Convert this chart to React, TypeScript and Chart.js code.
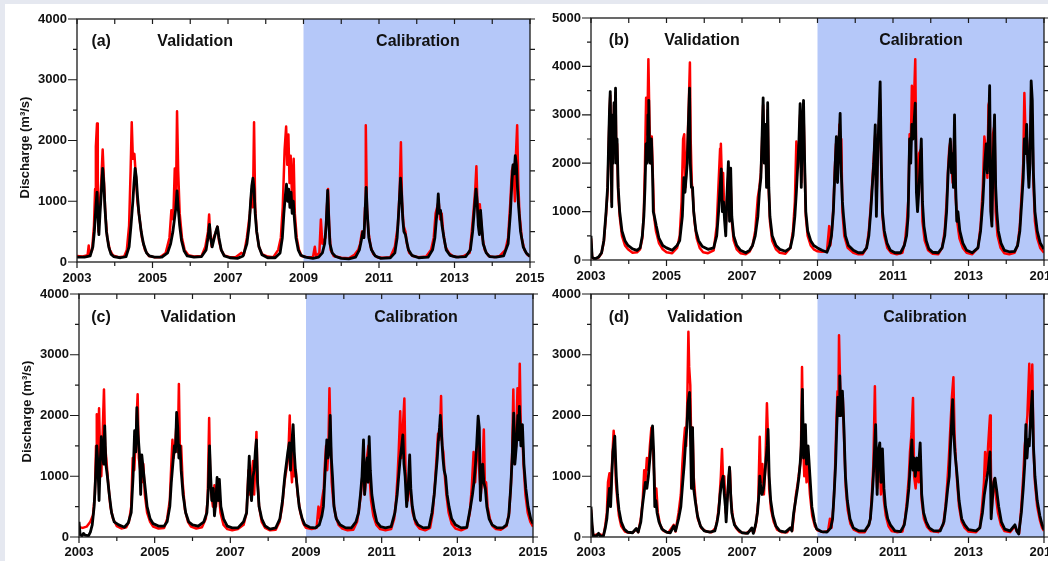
import React, { useEffect, useRef } from 'react';
import { Chart, registerables } from 'chart.js';

Chart.register(...registerables);

type Pt = [number, number];

// ---------- axes / categories ----------
const yearTicks = [2003, 2004, 2005, 2006, 2007, 2008, 2009, 2010, 2011, 2012, 2013, 2014, 2015];
const labeledYears = [2003, 2005, 2007, 2009, 2011, 2013, 2015];
const calibrationStart = 2009;
const calibrationEnd = 2015;
const periodNames = ['Validation', 'Calibration'];
const panelLetters = ['(a)', '(b)', '(c)', '(d)'];
const yTitle = 'Discharge (m³/s)';
const yMaxes = [4000, 5000, 4000, 4000];

// ---------- panel (a) ----------
const aRed: Pt[] = [
  [2003.0, 100], [2003.15, 90], [2003.28, 110], [2003.31, 270], [2003.34, 120], [2003.4, 200], [2003.45, 600], [2003.48, 1200], [2003.5, 1900], [2003.53, 2280], [2003.55, 1000], [2003.57, 500], [2003.6, 900], [2003.64, 1300], [2003.68, 1850], [2003.71, 1400], [2003.75, 800], [2003.8, 400], [2003.87, 200], [2003.95, 110],
  [2004.1, 80], [2004.25, 90], [2004.32, 200], [2004.38, 600], [2004.42, 1500], [2004.45, 2300], [2004.48, 1700], [2004.52, 1780], [2004.56, 1400], [2004.6, 1000], [2004.66, 700], [2004.72, 400], [2004.8, 200], [2004.9, 100],
  [2005.05, 80], [2005.2, 80], [2005.35, 150], [2005.45, 400], [2005.5, 850], [2005.55, 700], [2005.59, 1540], [2005.62, 900], [2005.65, 2480], [2005.68, 1500], [2005.72, 800], [2005.78, 400], [2005.85, 200], [2005.95, 110],
  [2006.1, 90], [2006.3, 100], [2006.4, 250], [2006.47, 500], [2006.5, 780], [2006.53, 450], [2006.57, 250], [2006.62, 400], [2006.67, 480], [2006.72, 580], [2006.76, 350], [2006.82, 200], [2006.9, 110],
  [2007.05, 80], [2007.2, 80], [2007.35, 150], [2007.42, 120], [2007.5, 400], [2007.58, 800], [2007.63, 1200], [2007.66, 900], [2007.69, 2300], [2007.72, 900], [2007.76, 500], [2007.82, 250], [2007.9, 130],
  [2008.05, 90], [2008.2, 80], [2008.33, 200], [2008.4, 400], [2008.45, 900], [2008.5, 1850], [2008.54, 2230], [2008.57, 1600], [2008.6, 2100], [2008.63, 1300], [2008.66, 1750], [2008.7, 1000], [2008.74, 1700], [2008.77, 800], [2008.82, 400], [2008.88, 200], [2008.95, 100],
  [2009.1, 80], [2009.25, 80], [2009.3, 250], [2009.33, 100], [2009.42, 150], [2009.46, 700], [2009.5, 300], [2009.58, 400], [2009.62, 900], [2009.65, 1200], [2009.68, 600], [2009.72, 200], [2009.8, 100],
  [2010.0, 70], [2010.2, 60], [2010.35, 120], [2010.45, 200], [2010.5, 300], [2010.55, 500], [2010.6, 400], [2010.63, 900], [2010.65, 2250], [2010.68, 900], [2010.72, 500], [2010.78, 250], [2010.85, 130], [2010.95, 80],
  [2011.1, 70], [2011.3, 80], [2011.42, 250], [2011.5, 600], [2011.55, 1200], [2011.58, 1970], [2011.61, 1000], [2011.65, 600], [2011.7, 500], [2011.74, 300], [2011.8, 150], [2011.9, 100],
  [2012.05, 80], [2012.25, 90], [2012.38, 200], [2012.45, 400], [2012.5, 800], [2012.54, 900], [2012.58, 1000], [2012.62, 700], [2012.66, 800], [2012.7, 500], [2012.76, 250], [2012.85, 150], [2012.95, 100],
  [2013.1, 80], [2013.25, 100], [2013.4, 150], [2013.45, 450], [2013.5, 800], [2013.55, 1200], [2013.58, 1575], [2013.61, 900], [2013.64, 600], [2013.67, 950], [2013.7, 700], [2013.74, 400], [2013.8, 200], [2013.9, 100],
  [2014.05, 80], [2014.2, 100], [2014.35, 200], [2014.42, 400], [2014.48, 1000], [2014.52, 1500], [2014.56, 1600], [2014.6, 1000], [2014.63, 1800], [2014.66, 2250], [2014.69, 1300], [2014.72, 800], [2014.78, 400], [2014.85, 200], [2014.93, 120], [2015.0, 90],
];
const aBlack: Pt[] = [
  [2003.0, 80], [2003.2, 80], [2003.35, 100], [2003.42, 250], [2003.46, 500], [2003.5, 900], [2003.53, 1150], [2003.56, 700], [2003.58, 450], [2003.61, 800], [2003.64, 1100], [2003.68, 1540], [2003.71, 1300], [2003.74, 900], [2003.78, 500], [2003.84, 250], [2003.9, 130], [2003.97, 90],
  [2004.15, 70], [2004.3, 90], [2004.38, 250], [2004.43, 600], [2004.48, 1000], [2004.51, 1300], [2004.54, 1540], [2004.57, 1400], [2004.6, 1100], [2004.64, 800], [2004.7, 500], [2004.76, 300], [2004.84, 150], [2004.92, 100],
  [2005.05, 80], [2005.25, 80], [2005.4, 150], [2005.48, 300], [2005.54, 500], [2005.58, 700], [2005.62, 900], [2005.65, 1170], [2005.68, 900], [2005.72, 600], [2005.77, 350], [2005.84, 180], [2005.92, 100],
  [2006.1, 80], [2006.3, 90], [2006.42, 200], [2006.47, 400], [2006.51, 620], [2006.54, 400], [2006.58, 250], [2006.63, 380], [2006.68, 500], [2006.72, 580], [2006.76, 400], [2006.82, 200], [2006.9, 100],
  [2007.05, 70], [2007.25, 60], [2007.4, 100], [2007.5, 300], [2007.56, 600], [2007.6, 1000], [2007.63, 1250], [2007.66, 1380], [2007.69, 1200], [2007.72, 800], [2007.76, 500], [2007.82, 250], [2007.9, 120],
  [2008.05, 70], [2008.25, 70], [2008.38, 150], [2008.44, 400], [2008.48, 800], [2008.52, 1100], [2008.55, 1280], [2008.58, 1000], [2008.61, 1200], [2008.64, 900], [2008.67, 1150], [2008.7, 800], [2008.73, 1000], [2008.76, 700], [2008.8, 400], [2008.86, 200], [2008.93, 110],
  [2009.05, 80], [2009.25, 60], [2009.4, 80], [2009.5, 150], [2009.56, 300], [2009.6, 600], [2009.64, 1180], [2009.67, 700], [2009.7, 300], [2009.76, 150], [2009.85, 90],
  [2010.0, 60], [2010.2, 50], [2010.38, 80], [2010.48, 200], [2010.53, 350], [2010.57, 500], [2010.6, 400], [2010.63, 800], [2010.66, 1230], [2010.69, 800], [2010.73, 400], [2010.8, 200], [2010.9, 100],
  [2011.05, 60], [2011.3, 70], [2011.42, 150], [2011.48, 400], [2011.53, 900], [2011.57, 1380], [2011.6, 1100], [2011.63, 700], [2011.66, 500], [2011.7, 450], [2011.73, 350], [2011.78, 200], [2011.87, 110],
  [2012.05, 70], [2012.3, 80], [2012.42, 200], [2012.48, 400], [2012.52, 700], [2012.55, 900], [2012.57, 1120], [2012.6, 800], [2012.63, 850], [2012.67, 600], [2012.72, 400], [2012.78, 200], [2012.88, 110],
  [2013.05, 80], [2013.3, 90], [2013.42, 200], [2013.48, 500], [2013.53, 900], [2013.57, 1200], [2013.6, 1000], [2013.63, 600], [2013.66, 450], [2013.69, 850], [2013.72, 600], [2013.76, 300], [2013.84, 150], [2013.93, 90],
  [2014.1, 80], [2014.3, 100], [2014.42, 300], [2014.48, 800], [2014.52, 1300], [2014.55, 1600], [2014.58, 1450], [2014.61, 1750], [2014.64, 1600], [2014.67, 1200], [2014.7, 900], [2014.75, 500], [2014.82, 250], [2014.9, 150], [2015.0, 90],
];

// ---------- panel (b) ----------
const bRed: Pt[] = [
  [2003.0, 450], [2003.03, 50], [2003.1, 20], [2003.2, 50], [2003.28, 140], [2003.34, 380], [2003.4, 950], [2003.44, 1450], [2003.47, 2400], [2003.49, 3000], [2003.51, 3400], [2003.53, 2100], [2003.55, 1200], [2003.57, 2900], [2003.59, 2100], [2003.61, 3200], [2003.63, 2300], [2003.65, 3450], [2003.67, 2100], [2003.69, 2400], [2003.72, 1400], [2003.76, 900], [2003.82, 500], [2003.9, 300], [2003.98, 220],
  [2004.1, 150], [2004.22, 160], [2004.3, 220], [2004.36, 450], [2004.4, 1000], [2004.43, 2000], [2004.46, 3350], [2004.49, 2600], [2004.52, 4150], [2004.55, 2800], [2004.58, 2000], [2004.61, 2550], [2004.64, 1700], [2004.67, 900], [2004.72, 600], [2004.8, 350], [2004.9, 220],
  [2005.0, 160], [2005.15, 140], [2005.28, 250], [2005.35, 500], [2005.4, 1200], [2005.44, 2500], [2005.47, 2600], [2005.5, 1500], [2005.53, 1900], [2005.56, 2500], [2005.59, 3200], [2005.62, 4080], [2005.64, 2500], [2005.67, 1600], [2005.7, 1300], [2005.74, 800], [2005.8, 450], [2005.88, 250], [2005.97, 160],
  [2006.1, 140], [2006.25, 200], [2006.33, 700], [2006.38, 1600], [2006.42, 2300], [2006.44, 2400], [2006.47, 1600], [2006.5, 1800], [2006.53, 1000], [2006.57, 700], [2006.6, 1200], [2006.64, 1800], [2006.67, 900], [2006.7, 1600], [2006.73, 800], [2006.78, 400], [2006.86, 220], [2006.96, 140],
  [2007.1, 120], [2007.2, 170], [2007.28, 300], [2007.35, 600], [2007.42, 1300], [2007.46, 1500], [2007.5, 1800], [2007.53, 2400], [2007.56, 3200], [2007.59, 2100], [2007.62, 2600], [2007.65, 1600], [2007.68, 3100], [2007.71, 1400], [2007.74, 800], [2007.8, 400], [2007.9, 220],
  [2008.0, 150], [2008.15, 130], [2008.28, 250], [2008.35, 600], [2008.4, 1200], [2008.44, 2450], [2008.48, 1900], [2008.51, 2300], [2008.54, 3000], [2008.57, 1600], [2008.6, 2600], [2008.63, 3100], [2008.66, 1900], [2008.69, 900], [2008.74, 500], [2008.82, 300], [2008.9, 220],
  [2009.0, 180], [2009.12, 170], [2009.25, 180], [2009.31, 700], [2009.34, 300], [2009.38, 600], [2009.42, 1100], [2009.46, 1900], [2009.49, 2400], [2009.52, 1700], [2009.55, 2100], [2009.58, 2800], [2009.61, 2000], [2009.63, 2500], [2009.66, 1000], [2009.71, 500], [2009.8, 250], [2009.95, 150],
  [2010.08, 120], [2010.2, 120], [2010.3, 250], [2010.36, 600], [2010.41, 1100], [2010.45, 1600], [2010.49, 2100], [2010.53, 2600], [2010.56, 1100], [2010.59, 2100], [2010.62, 2700], [2010.66, 3300], [2010.69, 1800], [2010.72, 900], [2010.77, 500], [2010.85, 250], [2010.95, 150],
  [2011.1, 120], [2011.25, 150], [2011.32, 400], [2011.37, 800], [2011.41, 1300], [2011.44, 2600], [2011.47, 2300], [2011.5, 3600], [2011.53, 2800], [2011.56, 3400], [2011.59, 4150], [2011.62, 1800], [2011.65, 1400], [2011.69, 2200], [2011.75, 2300], [2011.78, 800], [2011.84, 400], [2011.93, 200],
  [2012.05, 130], [2012.2, 120], [2012.3, 250], [2012.37, 600], [2012.42, 1200], [2012.46, 1900], [2012.49, 2300], [2012.52, 2450], [2012.55, 2000], [2012.58, 1600], [2012.63, 2700], [2012.66, 1300], [2012.7, 800], [2012.76, 450], [2012.85, 250], [2012.95, 150],
  [2013.1, 120], [2013.25, 250], [2013.32, 700], [2013.38, 1500], [2013.42, 2550], [2013.47, 2200], [2013.5, 1700], [2013.53, 3200], [2013.56, 3300], [2013.59, 1100], [2013.62, 800], [2013.65, 2600], [2013.69, 2800], [2013.72, 1000], [2013.77, 500], [2013.85, 250], [2013.95, 140],
  [2014.08, 120], [2014.22, 150], [2014.3, 300], [2014.36, 700], [2014.41, 1400], [2014.45, 2000], [2014.48, 3450], [2014.51, 2600], [2014.54, 2600], [2014.57, 2100], [2014.6, 1800], [2014.63, 2400], [2014.66, 3200], [2014.69, 2900], [2014.72, 1600], [2014.76, 800], [2014.82, 450], [2014.9, 250], [2015.0, 150],
];
const bBlack: Pt[] = [
  [2003.0, 500], [2003.03, 60], [2003.1, 20], [2003.2, 60], [2003.28, 150], [2003.34, 400], [2003.4, 1000], [2003.44, 1500], [2003.47, 2500], [2003.49, 3100], [2003.51, 3480], [2003.53, 2200], [2003.55, 1100], [2003.57, 3000], [2003.59, 2000], [2003.61, 3250], [2003.63, 2400], [2003.65, 3550], [2003.67, 2000], [2003.69, 2500], [2003.72, 1500], [2003.76, 1000], [2003.82, 600], [2003.9, 400], [2003.98, 300],
  [2004.1, 230], [2004.22, 200], [2004.3, 250], [2004.36, 500], [2004.4, 900], [2004.43, 1500], [2004.46, 2400], [2004.49, 2000], [2004.51, 3000], [2004.53, 3300], [2004.55, 2200], [2004.57, 2000], [2004.6, 2500], [2004.63, 1800], [2004.65, 1000], [2004.68, 900], [2004.73, 700], [2004.8, 450], [2004.9, 300],
  [2005.0, 250], [2005.15, 200], [2005.28, 300], [2005.35, 400], [2005.42, 900], [2005.46, 1700], [2005.49, 1400], [2005.52, 1700], [2005.55, 2000], [2005.58, 2800], [2005.61, 3550], [2005.63, 2000], [2005.66, 1500], [2005.69, 1500], [2005.72, 1000], [2005.78, 600], [2005.85, 400], [2005.95, 280],
  [2006.1, 220], [2006.25, 250], [2006.33, 500], [2006.38, 1000], [2006.42, 1500], [2006.45, 1880], [2006.48, 1000], [2006.51, 1200], [2006.54, 800], [2006.57, 500], [2006.6, 1300], [2006.64, 2030], [2006.67, 800], [2006.7, 1900], [2006.73, 900], [2006.78, 500], [2006.86, 300], [2006.96, 200],
  [2007.1, 150], [2007.2, 200], [2007.28, 300], [2007.35, 500], [2007.42, 900], [2007.46, 1400], [2007.5, 1700], [2007.53, 2500], [2007.56, 3350], [2007.59, 2000], [2007.62, 2800], [2007.65, 1500], [2007.68, 3250], [2007.71, 1500], [2007.74, 900], [2007.8, 500], [2007.9, 300],
  [2008.0, 220], [2008.15, 180], [2008.28, 250], [2008.35, 500], [2008.4, 900], [2008.44, 1400], [2008.48, 2000], [2008.51, 2500], [2008.54, 3230], [2008.57, 1500], [2008.6, 2800], [2008.63, 3300], [2008.66, 2000], [2008.69, 1000], [2008.74, 600], [2008.82, 400], [2008.9, 300],
  [2009.0, 250], [2009.12, 200], [2009.25, 160], [2009.32, 300], [2009.37, 500], [2009.42, 1000], [2009.46, 1800], [2009.5, 2550], [2009.53, 1600], [2009.56, 2200], [2009.6, 3030], [2009.63, 1800], [2009.66, 1200], [2009.69, 900], [2009.74, 500], [2009.82, 300], [2009.95, 200],
  [2010.08, 150], [2010.2, 150], [2010.3, 250], [2010.36, 500], [2010.41, 1000], [2010.45, 1500], [2010.49, 2000], [2010.53, 2790], [2010.56, 900], [2010.59, 2000], [2010.62, 2800], [2010.66, 3680], [2010.69, 2000], [2010.72, 1000], [2010.77, 600], [2010.84, 350], [2010.93, 200],
  [2011.05, 150], [2011.2, 150], [2011.3, 300], [2011.36, 500], [2011.4, 900], [2011.44, 2500], [2011.47, 2000], [2011.5, 2800], [2011.53, 2500], [2011.59, 3240], [2011.62, 1400], [2011.65, 1000], [2011.69, 1500], [2011.75, 2500], [2011.78, 1200], [2011.82, 700], [2011.88, 400], [2011.95, 230],
  [2012.05, 160], [2012.2, 150], [2012.3, 250], [2012.37, 500], [2012.42, 1000], [2012.46, 1800], [2012.52, 2500], [2012.55, 1800], [2012.58, 2200], [2012.6, 1500], [2012.63, 3000], [2012.66, 1500], [2012.69, 800], [2012.72, 1000], [2012.77, 600], [2012.85, 350], [2012.95, 200],
  [2013.1, 150], [2013.25, 250], [2013.32, 600], [2013.38, 1200], [2013.43, 2000], [2013.47, 2400], [2013.5, 1800], [2013.53, 2600], [2013.56, 3600], [2013.59, 1000], [2013.62, 700], [2013.65, 2000], [2013.69, 3000], [2013.72, 1500], [2013.75, 1000], [2013.79, 600], [2013.86, 350], [2013.95, 200],
  [2014.08, 170], [2014.22, 180], [2014.3, 300], [2014.36, 600], [2014.41, 1200], [2014.45, 1700], [2014.48, 2500], [2014.51, 2200], [2014.54, 2800], [2014.57, 2000], [2014.6, 1500], [2014.63, 2000], [2014.66, 3700], [2014.69, 3300], [2014.72, 1800], [2014.76, 1000], [2014.82, 600], [2014.9, 350], [2015.0, 220],
];

// ---------- panel (c) ----------
const cRed: Pt[] = [
  [2003.0, 160], [2003.1, 150], [2003.2, 170], [2003.3, 250], [2003.37, 360], [2003.42, 700], [2003.45, 1500], [2003.47, 2020], [2003.5, 1200], [2003.53, 2120], [2003.56, 1300], [2003.59, 1000], [2003.62, 1600], [2003.66, 2430], [2003.69, 1500], [2003.72, 1300], [2003.77, 900], [2003.83, 500], [2003.9, 300],
  [2004.0, 180], [2004.12, 140], [2004.25, 160], [2004.32, 250], [2004.38, 500], [2004.42, 1300], [2004.46, 1100], [2004.5, 1600], [2004.55, 2350], [2004.58, 1300], [2004.62, 1100], [2004.66, 900], [2004.7, 1200], [2004.74, 700], [2004.8, 400], [2004.88, 250], [2004.96, 170],
  [2005.1, 140], [2005.25, 150], [2005.33, 300], [2005.4, 600], [2005.44, 1200], [2005.47, 1600], [2005.5, 1300], [2005.54, 1500], [2005.58, 1900], [2005.61, 1400], [2005.64, 2520], [2005.67, 1300], [2005.7, 1500], [2005.74, 900], [2005.8, 450], [2005.88, 250], [2005.96, 170],
  [2006.1, 140], [2006.25, 160], [2006.35, 300], [2006.4, 600], [2006.44, 1960], [2006.47, 900], [2006.5, 700], [2006.54, 500], [2006.58, 850], [2006.62, 500], [2006.66, 900], [2006.7, 700], [2006.74, 400], [2006.82, 200], [2006.92, 130],
  [2007.05, 110], [2007.2, 130], [2007.35, 200], [2007.43, 400], [2007.48, 1100], [2007.51, 700], [2007.55, 900], [2007.6, 1250], [2007.63, 700], [2007.66, 1200], [2007.69, 1730], [2007.72, 900], [2007.76, 500], [2007.83, 250], [2007.92, 150],
  [2008.05, 110], [2008.2, 120], [2008.3, 250], [2008.37, 500], [2008.43, 900], [2008.48, 1100], [2008.53, 1300], [2008.57, 2000], [2008.6, 1200], [2008.63, 900], [2008.66, 1500], [2008.69, 1000], [2008.73, 1100], [2008.78, 700], [2008.85, 400], [2008.93, 220],
  [2009.0, 150], [2009.15, 130], [2009.28, 150], [2009.33, 500], [2009.37, 300], [2009.42, 600], [2009.47, 800], [2009.5, 1200], [2009.53, 1500], [2009.56, 1100], [2009.59, 1400], [2009.62, 2450], [2009.65, 1600], [2009.68, 900], [2009.72, 600], [2009.78, 350], [2009.86, 200], [2009.96, 140],
  [2010.1, 110], [2010.25, 120], [2010.35, 250], [2010.4, 450], [2010.45, 700], [2010.49, 1000], [2010.52, 1400], [2010.55, 700], [2010.58, 900], [2010.61, 1300], [2010.65, 1500], [2010.68, 1000], [2010.72, 600], [2010.78, 350], [2010.86, 200], [2010.96, 130],
  [2011.1, 110], [2011.25, 130], [2011.33, 300], [2011.38, 600], [2011.42, 1000], [2011.45, 1400], [2011.49, 2070], [2011.52, 1300], [2011.56, 1800], [2011.6, 2280], [2011.63, 1100], [2011.66, 800], [2011.69, 600], [2011.73, 1000], [2011.77, 700], [2011.82, 400], [2011.9, 220],
  [2012.0, 140], [2012.15, 110], [2012.28, 150], [2012.35, 400], [2012.41, 900], [2012.45, 1300], [2012.49, 1700], [2012.52, 1600], [2012.55, 1900], [2012.57, 2320], [2012.6, 1500], [2012.63, 1400], [2012.67, 1000], [2012.71, 700], [2012.77, 400], [2012.85, 220], [2012.95, 140],
  [2013.1, 110], [2013.25, 150], [2013.33, 400], [2013.38, 800], [2013.43, 1400], [2013.47, 900], [2013.51, 1300], [2013.55, 1700], [2013.58, 1100], [2013.62, 700], [2013.66, 1000], [2013.7, 1770], [2013.73, 800], [2013.76, 900], [2013.8, 500], [2013.86, 300], [2013.93, 180],
  [2014.02, 130], [2014.15, 120], [2014.3, 180], [2014.37, 400], [2014.42, 900], [2014.45, 1400], [2014.48, 2430], [2014.51, 1200], [2014.55, 1500], [2014.59, 2450], [2014.62, 1600], [2014.65, 2850], [2014.68, 1700], [2014.71, 1800], [2014.75, 1200], [2014.8, 700], [2014.86, 400], [2014.93, 250], [2015.0, 170],
];
const cBlack: Pt[] = [
  [2003.0, 250], [2003.03, 40], [2003.08, 20], [2003.12, 60], [2003.16, 30], [2003.25, 20], [2003.3, 80], [2003.35, 200], [2003.4, 500], [2003.44, 1000], [2003.47, 1500], [2003.5, 1200], [2003.53, 600], [2003.56, 1200], [2003.59, 1650], [2003.62, 1400], [2003.65, 1200], [2003.68, 1830], [2003.71, 1200], [2003.75, 1000], [2003.8, 700], [2003.86, 400], [2003.93, 250],
  [2004.05, 200], [2004.2, 160], [2004.3, 230], [2004.38, 400], [2004.43, 1000], [2004.47, 1750], [2004.5, 1400], [2004.53, 2130], [2004.56, 1700], [2004.6, 1350], [2004.63, 700], [2004.66, 1350], [2004.7, 1100], [2004.75, 800], [2004.8, 500], [2004.88, 300], [2004.96, 220],
  [2005.1, 180], [2005.25, 180], [2005.33, 250], [2005.4, 500], [2005.44, 900], [2005.48, 1200], [2005.52, 1500], [2005.55, 1400], [2005.58, 2050], [2005.61, 1800], [2005.64, 1300], [2005.67, 1500], [2005.7, 1100], [2005.75, 700], [2005.82, 400], [2005.9, 250],
  [2006.0, 200], [2006.15, 180], [2006.3, 250], [2006.38, 400], [2006.42, 800], [2006.45, 1500], [2006.48, 1000], [2006.51, 600], [2006.55, 800], [2006.58, 350], [2006.62, 600], [2006.65, 980], [2006.68, 600], [2006.71, 950], [2006.75, 500], [2006.82, 300], [2006.92, 180],
  [2007.05, 150], [2007.2, 150], [2007.35, 250], [2007.43, 400], [2007.47, 900], [2007.5, 1330], [2007.53, 800], [2007.56, 600], [2007.6, 1000], [2007.63, 1100], [2007.66, 1400], [2007.69, 1600], [2007.72, 900], [2007.76, 500], [2007.83, 300], [2007.92, 180],
  [2008.05, 130], [2008.2, 150], [2008.31, 300], [2008.38, 600], [2008.44, 1000], [2008.48, 1200], [2008.52, 1400], [2008.56, 1550], [2008.59, 1100], [2008.62, 1500], [2008.66, 1850], [2008.69, 1400], [2008.72, 1100], [2008.77, 800], [2008.82, 500], [2008.9, 300], [2008.97, 200],
  [2009.1, 160], [2009.25, 150], [2009.35, 200], [2009.42, 350], [2009.46, 500], [2009.5, 1000], [2009.55, 1600], [2009.58, 1300], [2009.61, 1400], [2009.64, 2000], [2009.67, 1300], [2009.7, 1000], [2009.74, 500], [2009.8, 300], [2009.9, 200],
  [2010.05, 150], [2010.2, 150], [2010.32, 250], [2010.39, 400], [2010.44, 700], [2010.48, 1000], [2010.52, 1600], [2010.55, 700], [2010.58, 1100], [2010.62, 1300], [2010.64, 900], [2010.67, 1650], [2010.7, 1100], [2010.74, 700], [2010.8, 450], [2010.87, 250], [2010.97, 170],
  [2011.1, 150], [2011.25, 170], [2011.35, 400], [2011.41, 700], [2011.45, 1000], [2011.49, 1300], [2011.53, 1500], [2011.56, 1680], [2011.59, 1200], [2011.62, 1000], [2011.66, 500], [2011.7, 800], [2011.74, 1350], [2011.77, 800], [2011.81, 500], [2011.87, 300], [2011.96, 200],
  [2012.1, 150], [2012.25, 160], [2012.33, 400], [2012.39, 700], [2012.43, 1000], [2012.47, 1300], [2012.5, 1600], [2012.53, 1800], [2012.55, 2000], [2012.59, 1600], [2012.62, 1300], [2012.65, 1100], [2012.69, 1000], [2012.73, 700], [2012.78, 500], [2012.85, 300], [2012.95, 200],
  [2013.1, 150], [2013.25, 160], [2013.35, 500], [2013.4, 700], [2013.44, 900], [2013.48, 1200], [2013.51, 1500], [2013.55, 1990], [2013.58, 1800], [2013.61, 600], [2013.64, 1000], [2013.67, 1200], [2013.7, 900], [2013.74, 800], [2013.78, 500], [2013.84, 300], [2013.92, 200],
  [2014.05, 150], [2014.2, 150], [2014.3, 200], [2014.36, 350], [2014.41, 800], [2014.45, 1300], [2014.49, 2040], [2014.52, 1200], [2014.56, 1500], [2014.6, 2000], [2014.62, 1600], [2014.64, 2150], [2014.68, 1500], [2014.72, 1850], [2014.76, 1200], [2014.81, 800], [2014.87, 500], [2014.94, 300], [2015.0, 220],
];

// ---------- panel (d) ----------
const dRed: Pt[] = [
  [2003.0, 450], [2003.03, 150], [2003.06, 20], [2003.2, 50], [2003.33, 20], [2003.38, 200], [2003.42, 400], [2003.45, 900], [2003.49, 1050], [2003.52, 600], [2003.55, 1100], [2003.58, 1500], [2003.6, 1750], [2003.63, 1500], [2003.66, 900], [2003.7, 600], [2003.74, 350], [2003.8, 180], [2003.9, 90],
  [2004.0, 70], [2004.1, 70], [2004.2, 130], [2004.25, 80], [2004.32, 300], [2004.37, 600], [2004.41, 1100], [2004.44, 900], [2004.48, 1300], [2004.52, 1100], [2004.56, 1500], [2004.6, 1800], [2004.63, 1600], [2004.66, 1200], [2004.69, 800], [2004.73, 800], [2004.77, 400], [2004.83, 200], [2004.92, 100],
  [2005.05, 70], [2005.19, 200], [2005.24, 90], [2005.32, 400], [2005.38, 700], [2005.42, 1200], [2005.45, 1500], [2005.49, 1800], [2005.52, 1500], [2005.55, 2200], [2005.58, 3380], [2005.6, 2800], [2005.63, 2500], [2005.66, 1300], [2005.69, 1800], [2005.72, 1000], [2005.77, 600], [2005.83, 300], [2005.92, 150],
  [2006.05, 90], [2006.2, 80], [2006.3, 150], [2006.35, 300], [2006.4, 600], [2006.44, 1000], [2006.47, 1450], [2006.5, 900], [2006.53, 1000], [2006.57, 400], [2006.62, 700], [2006.65, 1000], [2006.68, 1100], [2006.71, 600], [2006.76, 300], [2006.84, 150], [2006.94, 80],
  [2007.1, 60], [2007.26, 120], [2007.32, 80], [2007.38, 250], [2007.43, 600], [2007.47, 1650], [2007.5, 900], [2007.54, 1200], [2007.58, 700], [2007.62, 1200], [2007.66, 2200], [2007.69, 1600], [2007.72, 800], [2007.77, 450], [2007.84, 250], [2007.93, 120],
  [2008.05, 80], [2008.2, 80], [2008.28, 150], [2008.33, 100], [2008.38, 400], [2008.43, 700], [2008.48, 900], [2008.52, 1100], [2008.56, 1300], [2008.59, 2800], [2008.62, 1500], [2008.65, 1000], [2008.68, 1300], [2008.71, 900], [2008.75, 1200], [2008.8, 700], [2008.86, 350], [2008.93, 180],
  [2009.0, 110], [2009.15, 80], [2009.28, 100], [2009.33, 300], [2009.37, 150], [2009.42, 500], [2009.46, 1000], [2009.5, 1900], [2009.53, 2400], [2009.55, 2000], [2009.57, 3320], [2009.6, 2500], [2009.63, 2000], [2009.67, 2300], [2009.71, 1500], [2009.75, 800], [2009.8, 450], [2009.87, 220], [2009.96, 120],
  [2010.1, 80], [2010.25, 80], [2010.36, 200], [2010.4, 300], [2010.44, 700], [2010.48, 1200], [2010.52, 2480], [2010.55, 1200], [2010.58, 800], [2010.61, 1100], [2010.65, 1300], [2010.68, 700], [2010.72, 1200], [2010.76, 600], [2010.81, 350], [2010.88, 180], [2010.96, 100],
  [2011.1, 80], [2011.25, 90], [2011.32, 300], [2011.37, 600], [2011.42, 1000], [2011.45, 1400], [2011.49, 1700], [2011.53, 2290], [2011.56, 1000], [2011.6, 800], [2011.64, 1200], [2011.68, 900], [2011.72, 1300], [2011.76, 600], [2011.82, 300], [2011.9, 170],
  [2012.0, 100], [2012.2, 80], [2012.33, 200], [2012.39, 500], [2012.44, 900], [2012.48, 1300], [2012.52, 1800], [2012.56, 2300], [2012.6, 2630], [2012.63, 1700], [2012.66, 1300], [2012.7, 900], [2012.75, 500], [2012.82, 250], [2012.9, 150],
  [2013.0, 90], [2013.2, 80], [2013.3, 150], [2013.36, 500], [2013.41, 900], [2013.44, 1400], [2013.48, 1000], [2013.52, 1500], [2013.57, 2000], [2013.59, 1300], [2013.61, 400], [2013.64, 700], [2013.68, 950], [2013.72, 700], [2013.78, 400], [2013.86, 200], [2013.95, 100],
  [2014.1, 80], [2014.23, 180], [2014.28, 90], [2014.34, 60], [2014.4, 500], [2014.45, 1000], [2014.49, 1500], [2014.52, 1700], [2014.56, 2000], [2014.61, 2850], [2014.64, 1800], [2014.66, 2200], [2014.69, 2840], [2014.72, 1500], [2014.76, 900], [2014.82, 500], [2014.89, 280], [2014.95, 150], [2015.0, 100],
];
const dBlack: Pt[] = [
  [2003.0, 500], [2003.03, 200], [2003.06, 20], [2003.15, 20], [2003.2, 60], [2003.25, 10], [2003.33, 20], [2003.38, 150], [2003.42, 300], [2003.46, 600], [2003.49, 800], [2003.52, 500], [2003.55, 1000], [2003.58, 1400], [2003.63, 1660], [2003.65, 1300], [2003.67, 1000], [2003.7, 700], [2003.74, 450], [2003.8, 250], [2003.88, 130], [2003.97, 80],
  [2004.1, 70], [2004.2, 140], [2004.25, 80], [2004.32, 250], [2004.36, 500], [2004.4, 700], [2004.44, 900], [2004.48, 800], [2004.52, 1000], [2004.56, 1300], [2004.6, 1600], [2004.63, 1830], [2004.66, 1400], [2004.69, 500], [2004.72, 600], [2004.75, 400], [2004.8, 250], [2004.88, 130],
  [2005.0, 80], [2005.1, 70], [2005.19, 180], [2005.24, 100], [2005.32, 300], [2005.38, 500], [2005.43, 900], [2005.47, 1200], [2005.51, 1600], [2005.54, 1800], [2005.57, 2200], [2005.61, 2380], [2005.63, 1800], [2005.66, 800], [2005.69, 1800], [2005.72, 800], [2005.76, 600], [2005.82, 350], [2005.9, 180],
  [2006.0, 100], [2006.15, 80], [2006.28, 100], [2006.34, 250], [2006.38, 400], [2006.42, 700], [2006.46, 900], [2006.5, 1000], [2006.53, 700], [2006.56, 500], [2006.58, 250], [2006.62, 700], [2006.65, 1000], [2006.67, 1150], [2006.7, 700], [2006.73, 400], [2006.8, 200], [2006.9, 120],
  [2007.0, 70], [2007.15, 60], [2007.26, 150], [2007.3, 60], [2007.36, 200], [2007.41, 400], [2007.45, 700], [2007.47, 1000], [2007.5, 800], [2007.53, 700], [2007.57, 800], [2007.6, 1000], [2007.64, 1300], [2007.67, 1500], [2007.69, 1770], [2007.72, 1000], [2007.76, 600], [2007.82, 350], [2007.9, 180],
  [2008.0, 100], [2008.15, 80], [2008.28, 150], [2008.32, 100], [2008.37, 400], [2008.42, 600], [2008.47, 800], [2008.51, 1000], [2008.54, 1200], [2008.57, 1500], [2008.6, 2430], [2008.63, 1300], [2008.66, 1500], [2008.68, 1850], [2008.71, 1200], [2008.75, 1500], [2008.8, 1000], [2008.85, 500], [2008.92, 250], [2008.98, 130],
  [2009.1, 90], [2009.25, 80], [2009.35, 150], [2009.4, 300], [2009.44, 700], [2009.48, 1200], [2009.51, 1800], [2009.54, 2300], [2009.57, 2000], [2009.59, 2650], [2009.62, 2000], [2009.66, 2400], [2009.7, 1800], [2009.74, 1000], [2009.79, 600], [2009.86, 300], [2009.95, 150],
  [2010.1, 100], [2010.25, 100], [2010.36, 200], [2010.4, 300], [2010.44, 600], [2010.48, 1000], [2010.54, 1850], [2010.56, 1300], [2010.58, 700], [2010.61, 1400], [2010.65, 1550], [2010.68, 900], [2010.72, 1450], [2010.76, 800], [2010.8, 500], [2010.86, 300], [2010.93, 200],
  [2011.05, 100], [2011.2, 90], [2011.3, 200], [2011.37, 500], [2011.42, 800], [2011.46, 1200], [2011.5, 1600], [2011.53, 1100], [2011.56, 1300], [2011.59, 1000], [2011.63, 1300], [2011.67, 1100], [2011.72, 1550], [2011.76, 700], [2011.81, 400], [2011.88, 250], [2011.96, 150],
  [2012.08, 100], [2012.25, 100], [2012.35, 250], [2012.4, 500], [2012.45, 800], [2012.49, 1000], [2012.53, 1600], [2012.58, 2260], [2012.61, 1700], [2012.64, 1400], [2012.67, 1200], [2012.7, 1000], [2012.75, 600], [2012.82, 300], [2012.9, 200],
  [2013.0, 120], [2013.2, 100], [2013.3, 150], [2013.37, 400], [2013.42, 700], [2013.47, 900], [2013.52, 1100], [2013.57, 1400], [2013.6, 300], [2013.63, 600], [2013.67, 900], [2013.7, 970], [2013.74, 800], [2013.8, 500], [2013.87, 250], [2013.96, 130],
  [2014.1, 100], [2014.23, 200], [2014.28, 100], [2014.33, 50], [2014.4, 400], [2014.45, 800], [2014.49, 1200], [2014.52, 1850], [2014.55, 1300], [2014.58, 1600], [2014.61, 1500], [2014.65, 2000], [2014.69, 2400], [2014.72, 1500], [2014.76, 1000], [2014.82, 600], [2014.89, 350], [2014.95, 200], [2015.0, 120],
];

// ---------- styling / layout (not data) ----------
const FONT = "'Liberation Sans', Arial, Helvetica, sans-serif";
const SHADE = '#b5c8f9';
const INK = '#111111';

type PanelCfg = {
  left: number; top: number; width: number; height: number;
  yAxisW: number; xAxisH: number; padTop: number; padRight: number;
  yMax: number; red: Pt[]; black: Pt[]; letter: string; showYTitle: boolean;
  letterYear: number; valYear: number; calYear: number; textDy: number; xPad: number; yTitleDy: number;
};

const panels: PanelCfg[] = [
  { left: 0, top: 0, width: 560, height: 290, yAxisW: 77, xAxisH: 28, padTop: 19, padRight: 30,
    yMax: yMaxes[0], red: aRed, black: aBlack, letter: panelLetters[0], showYTitle: true,
    letterYear: 2003.64, valYear: 2006.13, calYear: 2012.03, textDy: 23, xPad: 9, yTitleDy: 7 },
  { left: 540, top: 0, width: 540, height: 290, yAxisW: 51, xAxisH: 30, padTop: 18, padRight: 36,
    yMax: yMaxes[1], red: bRed, black: bBlack, letter: panelLetters[1], showYTitle: false,
    letterYear: 2003.74, valYear: 2005.94, calYear: 2011.74, textDy: 23, xPad: 9, yTitleDy: 0 },
  { left: 0, top: 285, width: 560, height: 276, yAxisW: 79, xAxisH: 24, padTop: 9, padRight: 27,
    yMax: yMaxes[2], red: cRed, black: cBlack, letter: panelLetters[2], showYTitle: true,
    letterYear: 2003.58, valYear: 2006.15, calYear: 2011.91, textDy: 24, xPad: 8, yTitleDy: -4 },
  { left: 540, top: 285, width: 540, height: 276, yAxisW: 51, xAxisH: 24, padTop: 9, padRight: 36,
    yMax: yMaxes[3], red: dRed, black: dBlack, letter: panelLetters[3], showYTitle: false,
    letterYear: 2003.74, valYear: 2006.02, calYear: 2011.85, textDy: 24, xPad: 8, yTitleDy: 0 },
];

const decorPlugin = {
  id: 'decor',
  beforeDatasetsDraw(chart: any) {
    const { ctx, chartArea: ca, scales } = chart;
    const x0 = scales.x.getPixelForValue(calibrationStart);
    const x1 = scales.x.getPixelForValue(calibrationEnd);
    ctx.save();
    ctx.fillStyle = SHADE;
    ctx.fillRect(x0, ca.top, x1 - x0, ca.bottom - ca.top);
    ctx.restore();
  },
  afterDatasetsDraw(chart: any) {
    const cfg: PanelCfg = chart.config.options._panel;
    const { ctx, chartArea: ca, scales } = chart;
    const xs = scales.x;
    const ys = scales.y;
    ctx.save();
    ctx.strokeStyle = '#1a1a1a';
    ctx.lineWidth = 1.3;
    ctx.strokeRect(ca.left, ca.top, ca.right - ca.left, ca.bottom - ca.top);
    ctx.lineWidth = 1.2;
    ctx.beginPath();
    for (let v = 0; v <= cfg.yMax; v += 500) {
      const py = ys.getPixelForValue(v);
      const major = v % 1000 === 0;
      ctx.moveTo(ca.left - (major ? 9 : 4), py);
      ctx.lineTo(ca.left, py);
      ctx.moveTo(ca.right, py);
      ctx.lineTo(ca.right + 5, py);
    }
    for (const yr of yearTicks) {
      const px = xs.getPixelForValue(yr);
      ctx.moveTo(px, ca.top);
      ctx.lineTo(px, ca.top + 5);
      ctx.moveTo(px, ca.bottom);
      ctx.lineTo(px, ca.bottom + (labeledYears.includes(yr) ? 6 : 4));
    }
    ctx.stroke();

    ctx.fillStyle = INK;
    ctx.font = `bold 16px ${FONT}`;
    ctx.textAlign = 'center';
    ctx.textBaseline = 'middle';
    const ty = ca.top + cfg.textDy;
    ctx.fillText(cfg.letter, xs.getPixelForValue(cfg.letterYear), ty);
    ctx.fillText(periodNames[0], xs.getPixelForValue(cfg.valYear), ty);
    ctx.fillText(periodNames[1], xs.getPixelForValue(cfg.calYear), ty);

    if (cfg.showYTitle) {
      ctx.translate(ca.left - 52, (ca.top + ca.bottom) / 2 + cfg.yTitleDy);
      ctx.rotate(-Math.PI / 2);
      ctx.font = `bold 13px ${FONT}`;
      ctx.fillText(yTitle, 0, 0);
    }
    ctx.restore();
  },
};

function Panel({ cfg }: { cfg: PanelCfg }) {
  const ref = useRef<HTMLCanvasElement | null>(null);
  useEffect(() => {
    if (!ref.current) return;
    const toXY = (arr: Pt[]) => arr.map(([x, y]) => ({ x, y }));
    const chart = new Chart(ref.current, {
      type: 'line',
      data: {
        datasets: [
          // dataset 0 is painted last (on top) by Chart.js
          { data: toXY(cfg.black), borderColor: '#000000', borderWidth: 2.8, pointRadius: 0, tension: 0, borderJoinStyle: 'round' },
          { data: toXY(cfg.red), borderColor: '#ff0000', borderWidth: 2.5, pointRadius: 0, tension: 0, borderJoinStyle: 'round' },
        ],
      },
      options: {
        _panel: cfg,
        animation: false,
        responsive: false,
        devicePixelRatio: 1,
        events: [],
        layout: { padding: { top: cfg.padTop, right: cfg.padRight, left: 0, bottom: 0 } },
        plugins: { legend: { display: false }, tooltip: { enabled: false }, title: { display: false } },
        scales: {
          x: {
            type: 'linear', min: 2003, max: 2015,
            grid: { display: false, drawTicks: false },
            border: { display: false },
            afterFit: (s: any) => { s.height = cfg.xAxisH; s.paddingLeft = 0; s.paddingRight = 0; },
            ticks: {
              stepSize: 1, autoSkip: false, maxRotation: 0, minRotation: 0, padding: cfg.xPad,
              color: INK, font: { family: FONT, size: 13, weight: 'bold' },
              callback: (v: any) => (labeledYears.includes(Number(v)) ? String(v) : ''),
            },
          },
          y: {
            type: 'linear', min: 0, max: cfg.yMax,
            grid: { display: false, drawTicks: false },
            border: { display: false },
            afterFit: (s: any) => { s.width = cfg.yAxisW; s.paddingTop = 0; s.paddingBottom = 0; },
            ticks: {
              stepSize: 1000, padding: 10, color: INK,
              font: { family: FONT, size: 13, weight: 'bold' },
              callback: (v: any) => String(v),
            },
          },
        },
      } as any,
      plugins: [decorPlugin],
    });
    return () => chart.destroy();
  }, [cfg]);
  return (
    <canvas
      ref={ref}
      width={cfg.width}
      height={cfg.height}
      style={{ position: 'absolute', left: cfg.left, top: cfg.top, width: cfg.width, height: cfg.height }}
    />
  );
}

export default function App() {
  return (
    <div style={{ position: 'fixed', left: 0, top: 0, width: 1048, height: 561, overflow: 'hidden', background: '#e5e8f0' }}>
      <div style={{ position: 'absolute', left: 5, top: 4, right: 0, bottom: 0, background: '#ffffff' }} />
      {panels.map((p, i) => <Panel key={i} cfg={p} />)}
    </div>
  );
}
